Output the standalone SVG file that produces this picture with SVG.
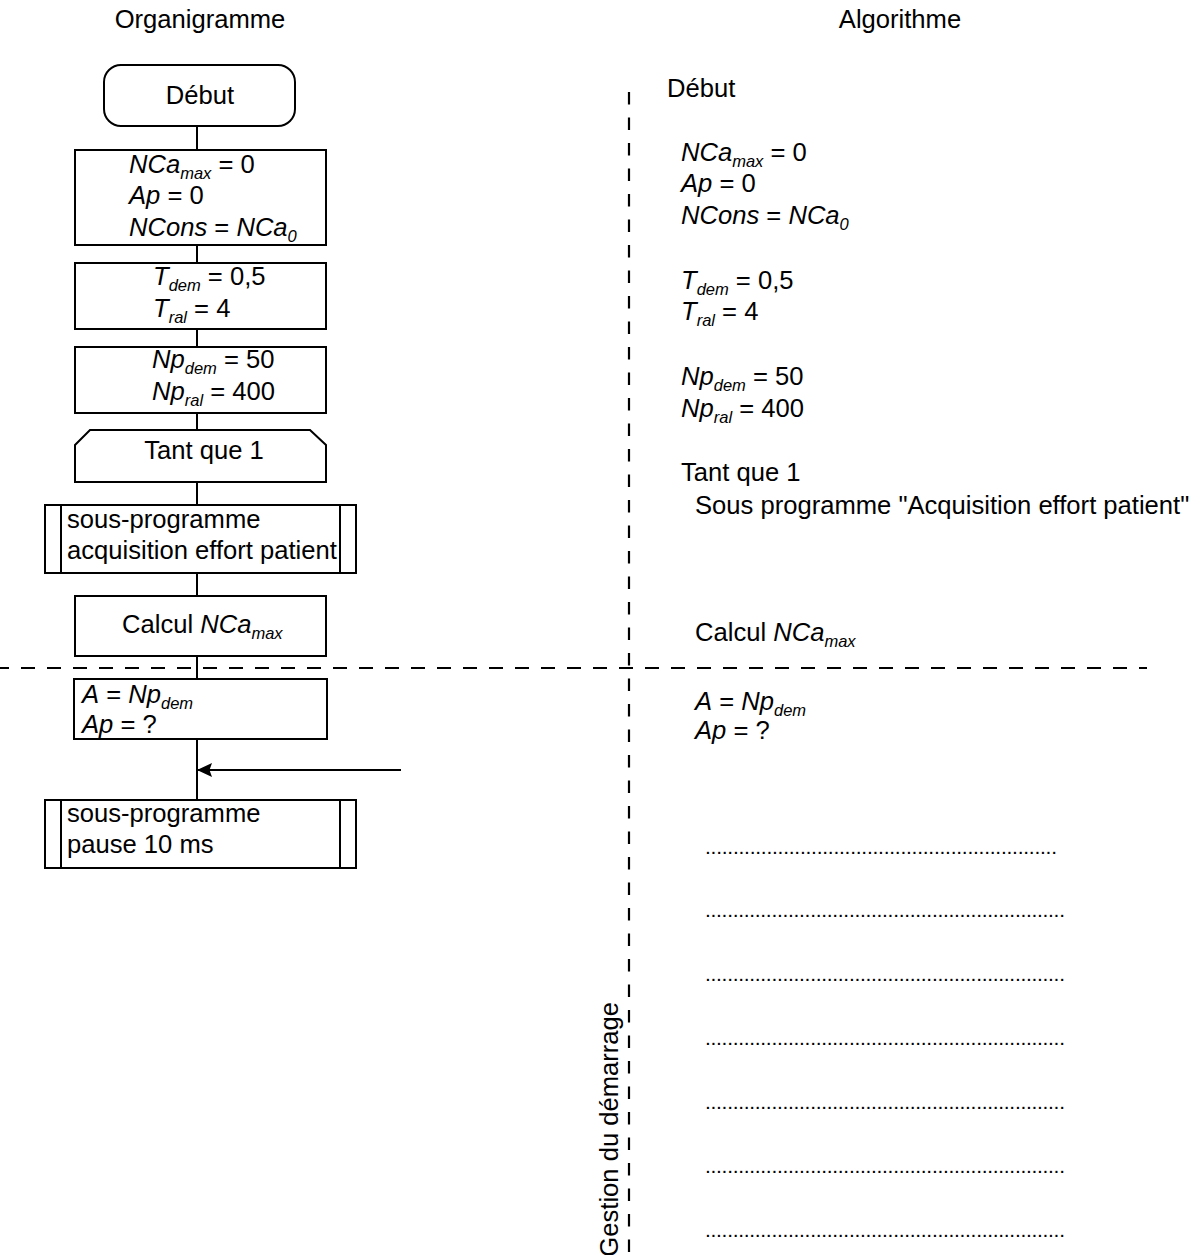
<svg xmlns="http://www.w3.org/2000/svg" width="1202" height="1255" viewBox="0 0 1202 1255">
<style>
.t{font-family:"Liberation Sans",Arial,sans-serif;font-size:25.6px;fill:#000}
.i{font-style:italic}
.s{font-size:16.5px;font-style:italic}
.box{fill:#fff;stroke:#000;stroke-width:2}
.ln{stroke:#000;stroke-width:2;fill:none}
.dash{stroke:#000;stroke-width:2.2;fill:none}
.dots{font-family:"Liberation Sans",Arial,sans-serif;font-size:21px;fill:#000}
</style>
<defs>
<marker id="arr" markerUnits="userSpaceOnUse" markerWidth="17" markerHeight="15" refX="15" refY="7" orient="auto">
<path d="M0,0 L15,7 L0,14 L2.5,7 z" fill="#000"/>
</marker>
</defs>
<rect width="1202" height="1255" fill="#fff"/>
<g id="titles">
<text class="t" x="200" y="28" text-anchor="middle">Organigramme</text>
<text class="t" x="900" y="28" text-anchor="middle">Algorithme</text>
</g>
<g id="separators">
<line class="dash" x1="-5" y1="668" x2="1147" y2="668" stroke-dasharray="14 12"/>
<line class="dash" x1="629" y1="92" x2="629" y2="1255" stroke-dasharray="12.5 13"/>
<text class="t" transform="translate(618,1002) rotate(-90)" text-anchor="end">Gestion du démarrage</text>
</g>
<g id="connectors">
<line class="ln" x1="197" y1="126" x2="197" y2="800"/>
<line class="ln" x1="401" y1="770" x2="197" y2="770" marker-end="url(#arr)"/>
</g>
<g id="n_debut">
<rect class="box" x="104" y="65" width="191" height="61" rx="17"/>
<text class="t" x="200" y="104" text-anchor="middle">Début</text>
</g>
<g id="n_init1">
<rect class="box" x="75" y="150" width="251" height="95"/>
<text class="t" x="129" y="173"><tspan class="i">NCa</tspan><tspan class="s" dy="6">max</tspan><tspan dy="-6"> = 0</tspan></text>
<text class="t" x="129" y="204"><tspan class="i">Ap</tspan> = 0</text>
<text class="t" x="129" y="236"><tspan class="i">NCons</tspan> = <tspan class="i">NCa</tspan><tspan class="s" dy="6">0</tspan></text>
</g>
<g id="n_init2">
<rect class="box" x="75" y="263" width="251" height="66"/>
<text class="t" x="153" y="285"><tspan class="i">T</tspan><tspan class="s" dy="6">dem</tspan><tspan dy="-6"> = 0,5</tspan></text>
<text class="t" x="153" y="317"><tspan class="i">T</tspan><tspan class="s" dy="6">ral</tspan><tspan dy="-6"> = 4</tspan></text>
</g>
<g id="n_init3">
<rect class="box" x="75" y="347" width="251" height="66"/>
<text class="t" x="152" y="368"><tspan class="i">Np</tspan><tspan class="s" dy="6">dem</tspan><tspan dy="-6"> = 50</tspan></text>
<text class="t" x="152" y="400"><tspan class="i">Np</tspan><tspan class="s" dy="6">ral</tspan><tspan dy="-6"> = 400</tspan></text>
</g>
<g id="n_tantque">
<path class="box" d="M75,445 L90,430 L310,430 L326,445 L326,482 L75,482 Z"/>
<text class="t" x="204" y="459" text-anchor="middle">Tant que 1</text>
</g>
<g id="n_acq">
<rect class="box" x="45" y="505" width="311" height="68"/>
<line class="ln" x1="61" y1="505" x2="61" y2="573"/>
<line class="ln" x1="340" y1="505" x2="340" y2="573"/>
<text class="t" x="67" y="528">sous-programme</text>
<text class="t" x="67" y="559">acquisition effort patient</text>
</g>
<g id="n_calcul">
<rect class="box" x="75" y="596" width="251" height="60"/>
<text class="t" x="122" y="633">Calcul <tspan class="i">NCa</tspan><tspan class="s" dy="6">max</tspan></text>
</g>
<g id="n_a">
<rect class="box" x="74" y="679" width="253" height="60"/>
<text class="t" x="82" y="703"><tspan class="i">A</tspan> = <tspan class="i">Np</tspan><tspan class="s" dy="6">dem</tspan></text>
<text class="t" x="82" y="733"><tspan class="i">Ap</tspan> = ?</text>
</g>
<g id="n_pause">
<rect class="box" x="45" y="800" width="311" height="68"/>
<line class="ln" x1="61" y1="800" x2="61" y2="868"/>
<line class="ln" x1="340" y1="800" x2="340" y2="868"/>
<text class="t" x="67" y="822">sous-programme</text>
<text class="t" x="67" y="853">pause 10 ms</text>
</g>
<g id="algorithme">
<text class="t" x="667" y="97">Début</text>
<text class="t" x="681" y="161"><tspan class="i">NCa</tspan><tspan class="s" dy="6">max</tspan><tspan dy="-6"> = 0</tspan></text>
<text class="t" x="681" y="192"><tspan class="i">Ap</tspan> = 0</text>
<text class="t" x="681" y="224"><tspan class="i">NCons</tspan> = <tspan class="i">NCa</tspan><tspan class="s" dy="6">0</tspan></text>
<text class="t" x="681" y="289"><tspan class="i">T</tspan><tspan class="s" dy="6">dem</tspan><tspan dy="-6"> = 0,5</tspan></text>
<text class="t" x="681" y="320"><tspan class="i">T</tspan><tspan class="s" dy="6">ral</tspan><tspan dy="-6"> = 4</tspan></text>
<text class="t" x="681" y="385"><tspan class="i">Np</tspan><tspan class="s" dy="6">dem</tspan><tspan dy="-6"> = 50</tspan></text>
<text class="t" x="681" y="417"><tspan class="i">Np</tspan><tspan class="s" dy="6">ral</tspan><tspan dy="-6"> = 400</tspan></text>
<text class="t" x="681" y="481">Tant que 1</text>
<text class="t" x="695" y="514">Sous programme "Acquisition effort patient"</text>
<text class="t" x="695" y="641">Calcul <tspan class="i">NCa</tspan><tspan class="s" dy="6">max</tspan></text>
<text class="t" x="695" y="710"><tspan class="i">A</tspan> = <tspan class="i">Np</tspan><tspan class="s" dy="6">dem</tspan></text>
<text class="t" x="695" y="739"><tspan class="i">Ap</tspan> = ?</text>
<text class="dots" x="705" y="854" textLength="352" lengthAdjust="spacing">...............................................................</text>
<text class="dots" x="705" y="917" textLength="360" lengthAdjust="spacing">.................................................................</text>
<text class="dots" x="705" y="981" textLength="360" lengthAdjust="spacing">.................................................................</text>
<text class="dots" x="705" y="1045" textLength="360" lengthAdjust="spacing">.................................................................</text>
<text class="dots" x="705" y="1109" textLength="360" lengthAdjust="spacing">.................................................................</text>
<text class="dots" x="705" y="1173" textLength="360" lengthAdjust="spacing">.................................................................</text>
<text class="dots" x="705" y="1237" textLength="360" lengthAdjust="spacing">.................................................................</text>
</g>
</svg>
